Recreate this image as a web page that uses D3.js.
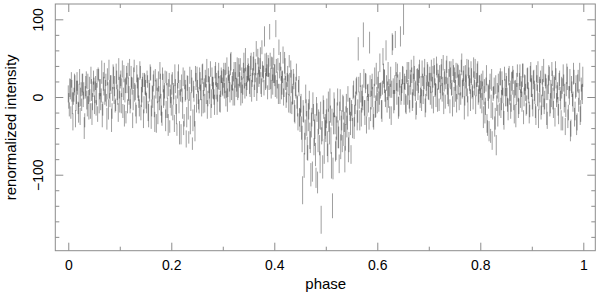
<!DOCTYPE html>
<html>
<head>
    <meta charset="utf-8">
    <title>renormalized intensity vs phase</title>
    <script src="https://d3js.org/d3.v7.min.js"></script>
    <style>
        body { margin: 0; background: #fff; }
        text { font-family: "Liberation Sans", Arial, sans-serif; }
    </style>
</head>
<body>
    <script type="text/javascript">
    // intensity per phase bin, first cycle (500 bins over 0..1)
    const cycleA = [
        -5, 12, -20, 8, -32, 3, 15, -8, 20, -14, 2, -25, 10, 18, -3, -40, 6, 22, -12, 0, 14, -18, 9, -6, 25,
        -10, 18, 4, -22, 28, 10, -6, 32, -15, 14, 0, 22, -28, 8, 35, -4, 16, -18, 26, 2, -12, 30, 6, -20, 12,
        20, -8, 36, 4, -24, 15, 28, -12, 10, 38, -2, 18, -30, 24, 6, -16, 30, 12, -6, 34, -20, 8, 22, -10, 16,
        -4, 26, -18, 10, 32, -26, 6, 18, -12, 28, -34, 2, 20, -8, 14, -22, 30, -2, 8, -30, 24, -14, 12, -38, 4,
        16, -20, 6, 28, -10, -42, 22, -6, 12, -48, 2, 26, -30, 8, -54, 18, -16, 4, -36, 20, -60, 10, -24, 30, -8,
        14, -4, 24, 6, -14, 30, 10, -8, 20, 34, -2, 16, 4, -18, 26, 12, 0, 32, 8, -10, 22, 18, -6, 28, 14,
        24, 8, 36, 12, -4, 30, 18, 42, 6, 20, 28, 2, 34, 16, 10, 38, 22, 4, 30, 14, 44, 8, 26, 18, 36,
        30, 14, 46, 22, 40, 8, 34, 62, 18, 40, 26, 50, 12, 36, 32, 78, 20, 42, 6, 38, 84, 24, 44, 16, 52,
        28, 88, 10, 42, 64, 4, 30, 18, 54, 12, 36, -4, 22, 16, 46, -10, 20, 2, 26, -18, 10, 32, -12, 14, -26,
        -12, -40, -120, -22, -60, 4, -34, -72, -16, -50, -100, -26, -8, -64, -38, -104, -20, -56, -30, -84, -158, -44, -10, -70, -36,
        -28, -60, -6, -46, -22, -88, -140, -34, -14, -70, -40, 0, -52, -18, -64, -30, -8, -48, -80, -24, -38, 4, -58, -16, -74,
        -20, 6, -40, -10, 14, -30, 62, -4, 22, -26, 2, 80, -14, 18, -36, 8, -8, 70, -22, 12, 0, -32, 26, -12, 4,
        16, -6, 44, 10, -18, 52, 24, 2, 60, -10, 30, 12, 8, -24, 68, 14, -4, 74, 20, 34, -14, 12, 78, 6, 28,
        112, 20, -8, 26, 4, 34, -12, 16, 28, -2, 38, 10, -18, 22, 6, 30, -6, 14, 36, 0, 24, -14, 18, 32, 8,
        22, 2, 34, 16, -10, 28, 10, 40, -4, 20, 30, 6, 36, 14, -8, 26, 18, 42, 4, 24, -12, 32, 12, 38, 0,
        20, 34, 6, 28, -6, 16, 40, 10, 24, -14, 30, 14, 2, 36, 18, -4, 26, 8, 38, 12, -10, 22, 32, 4, 18,
        10, -8, 24, 2, -20, 16, -34, 6, -44, 20, -12, -56, 4, 14, -28, -62, 8, 18, -16, 26, -4, 12, -22, 30, 0,
        14, -10, 26, 4, -18, 20, 32, -4, 10, -24, 22, 6, -12, 28, 16, -6, 34, 0, 18, -16, 24, 8, -20, 30, 12,
        -6, 22, 8, -18, 30, 2, -28, 16, 26, -10, 12, 34, -4, 20, -22, 6, 28, -14, 10, 36, -2, 18, -26, 24, 4,
        -12, 20, 4, -30, 14, 28, -8, -38, 10, 24, -20, 2, -44, 16, -4, 30, -26, 8, -36, 18, -10, 32, -18, 6, 26
    ];
    const errA = [
        10, 12, 8, 14, 11, 9, 13, 10, 12, 8, 15, 11, 9, 12, 10, 14, 8, 11, 13, 9, 12, 10, 14, 11, 9,
        12, 9, 14, 10, 8, 13, 11, 15, 9, 12, 10, 8, 14, 11, 13, 9, 12, 10, 16, 11, 8, 13, 10, 12, 14,
        9, 13, 11, 8, 14, 10, 12, 9, 15, 11, 13, 8, 10, 14, 12, 9, 11, 13, 8, 12, 10, 15, 9, 11, 13,
        11, 8, 13, 12, 10, 15, 9, 11, 14, 8, 12, 10, 13, 9, 16, 11, 8, 12, 10, 14, 9, 13, 11, 8, 12,
        13, 10, 9, 14, 12, 8, 11, 15, 10, 13, 9, 12, 8, 14, 11, 10, 13, 9, 12, 15, 8, 11, 14, 10, 12,
        8, 12, 14, 10, 11, 13, 9, 12, 8, 15, 10, 11, 13, 9, 12, 14, 10, 8, 11, 13, 12, 9, 14, 10, 11,
        12, 10, 8, 13, 15, 9, 11, 14, 10, 12, 8, 13, 11, 9, 14, 12, 10, 15, 8, 11, 13, 10, 12, 9, 14,
        10, 14, 11, 9, 12, 8, 15, 10, 13, 11, 9, 14, 12, 10, 8, 13, 11, 15, 9, 12, 10, 14, 8, 13, 11,
        14, 11, 12, 8, 10, 13, 9, 15, 11, 12, 14, 10, 9, 13, 8, 11, 15, 12, 10, 14, 9, 11, 13, 8, 12,
        13, 15, 18, 11, 14, 12, 16, 10, 13, 17, 15, 12, 14, 11, 16, 13, 12, 15, 11, 14, 18, 13, 12, 16, 14,
        12, 16, 13, 15, 11, 17, 16, 14, 12, 13, 15, 11, 14, 12, 16, 13, 11, 15, 17, 12, 14, 10, 13, 15, 12,
        11, 9, 14, 12, 10, 13, 15, 11, 9, 12, 14, 16, 10, 13, 11, 8, 12, 14, 9, 11, 13, 10, 12, 14, 9,
        10, 13, 12, 9, 14, 11, 12, 8, 13, 10, 15, 11, 9, 12, 14, 10, 13, 11, 12, 9, 14, 10, 13, 11, 12,
        32, 10, 12, 9, 14, 11, 8, 13, 10, 12, 15, 9, 11, 14, 10, 12, 8, 13, 11, 9, 14, 12, 10, 13, 11,
        9, 12, 14, 10, 11, 13, 8, 12, 15, 10, 11, 9, 13, 12, 14, 10, 8, 11, 13, 12, 9, 14, 10, 11, 13,
        12, 10, 9, 13, 11, 14, 8, 12, 10, 15, 11, 13, 9, 12, 10, 14, 11, 8, 13, 10, 12, 9, 14, 11, 10,
        11, 13, 10, 12, 14, 9, 12, 11, 13, 10, 15, 12, 9, 11, 14, 13, 10, 12, 8, 11, 13, 10, 14, 9, 12,
        13, 9, 11, 14, 10, 12, 8, 13, 11, 15, 9, 12, 10, 14, 11, 13, 9, 12, 10, 8, 13, 11, 14, 10, 12,
        10, 12, 13, 9, 11, 14, 12, 10, 8, 13, 11, 15, 12, 9, 14, 10, 13, 11, 12, 9, 14, 10, 12, 13, 11,
        12, 11, 9, 13, 10, 14, 12, 11, 9, 15, 10, 12, 13, 11, 8, 14, 12, 10, 13, 11, 9, 12, 14, 10, 13
    ];

    // second cycle, bins shifted by half a bin
    const cycleB = [
        4, -16, 10, 22, -8, -2, 18, -28, 6, 12, -20, 26, 0, -10, 16, 8, -30, 14, -4, 20, -14, 2, 28, -22, 10,
        16, 6, -14, 24, 30, -8, 12, 2, -24, 20, 34, 8, -4, 26, -16, 10, 18, -30, 4, 28, 14, -10, 22, 0, 36,
        -6, 24, 12, -18, 30, 8, -26, 18, 34, 2, -12, 26, 14, -4, 40, 6, -22, 20, 10, -14, 32, 0, 16, -28, 22,
        12, -8, 20, -24, 6, 30, -14, 0, 24, -32, 10, 16, -20, 4, 34, -10, -28, 18, 2, 26, -16, 8, -36, 22, -2,
        -12, 24, 4, -34, 14, -22, 8, 30, -46, 2, 18, -14, -40, 22, 6, -26, 12, -52, 28, -6, 16, -30, 4, -44, 20,
        26, 2, -12, 20, 10, 32, -6, 16, 24, 4, -16, 28, 12, 36, -2, 18, 8, -10, 30, 22, 6, 34, -8, 14, 26,
        10, 32, 20, -2, 40, 14, 26, 6, 46, 18, 0, 30, 22, 12, 38, 8, 28, 42, 16, 4, 34, 24, 48, 10, 30,
        32, 14, 40, 8, 28, 46, 20, 36, 10, 52, 26, 38, 18, 64, 30, 12, 44, 24, 34, 40, 20, 48, 10, 36, 28,
        30, 14, 40, 22, 4, 34, 46, 12, 26, 0, 44, 18, 6, 30, -8, 16, 36, -14, 4, 20, -22, 12, -6, -32, 14,
        -30, -8, -54, -18, -88, -42, -14, -66, -26, -4, -58, -36, -96, -20, -46, -74, -12, -110, -32, -62, -24, -50, -90, -16, -40,
        -44, -18, -72, -30, -2, -56, -26, -92, -10, -36, -66, -20, -48, -86, -4, -40, -60, -14, -32, -52, -8, -28, -68, -12, -34,
        -14, -40, 10, -24, -2, 14, -18, 16, -30, 4, -6, -8, 24, -20, 20, -12, 6, -34, 14, -4, 20, -26, 8, -16, 30,
        -8, 22, 4, 8, -16, 12, 30, 20, -2, 18, 8, 0, -20, 26, 10, 70, -6, 16, 36, 4, 18, -12, 22, 2, 14,
        28, 4, 18, -10, 32, 12, 0, 24, 40, -6, 16, 30, 8, -14, 26, 20, 36, 2, -4, 22, 14, 38, -8, 10, 28,
        8, 30, 18, -4, 26, 40, 12, 2, 34, 22, -10, 16, 28, 6, 44, 20, -6, 32, 14, 0, 36, 24, 10, -12, 30,
        28, 8, -8, 34, 16, 24, -2, 42, 12, 30, 4, 20, 38, -12, 26, 14, 32, 6, -4, 22, 36, 10, 28, 0, 16,
        -2, 20, 8, -26, 14, -12, 28, -40, 0, 10, -50, 22, -18, 6, -38, 16, -8, -24, 4, 24, -14, 18, 2, -30, 12,
        22, 0, -16, 30, 8, -8, 18, 26, -22, 12, 4, 34, -14, 20, -2, 10, 28, -26, 16, 6, -10, 24, 2, -18, 32,
        14, -14, 26, 4, -24, 18, 32, -6, 8, -20, 28, 0, -12, 22, 10, -30, 16, 30, -8, 2, 24, -16, 12, 34, -4,
        8, -22, 24, -4, 12, -34, 18, 2, -16, 30, -28, 6, 22, -40, 10, -6, 26, -18, 14, -32, 20, 0, -24, 16, 4
    ];
    const errB = [
        11, 9, 13, 10, 14, 8, 12, 11, 15, 9, 13, 10, 12, 8, 14, 11, 9, 13, 12, 10, 15, 8, 11, 14, 10,
        9, 14, 10, 12, 8, 13, 11, 9, 15, 12, 10, 14, 8, 11, 13, 12, 10, 15, 9, 11, 13, 8, 12, 10, 14,
        14, 10, 12, 9, 11, 15, 8, 13, 10, 12, 9, 14, 11, 13, 8, 10, 12, 9, 15, 11, 8, 13, 10, 12, 9,
        10, 13, 8, 15, 12, 9, 11, 14, 10, 13, 12, 8, 15, 10, 11, 14, 9, 12, 13, 8, 11, 10, 14, 9, 12,
        12, 8, 14, 11, 9, 13, 10, 12, 15, 8, 11, 14, 9, 12, 10, 13, 15, 8, 11, 12, 9, 14, 10, 13, 11,
        13, 11, 9, 12, 14, 10, 15, 8, 11, 13, 12, 9, 14, 10, 12, 8, 11, 13, 15, 9, 12, 10, 11, 14, 8,
        9, 12, 15, 10, 11, 14, 8, 13, 12, 9, 11, 15, 10, 12, 13, 9, 14, 8, 11, 12, 10, 13, 15, 9, 11,
        11, 10, 13, 14, 9, 12, 11, 8, 15, 10, 13, 12, 14, 9, 11, 10, 12, 13, 8, 14, 11, 9, 12, 15, 10,
        12, 14, 9, 11, 13, 10, 12, 15, 8, 11, 14, 9, 13, 10, 12, 15, 11, 8, 13, 10, 12, 14, 9, 11, 13,
        15, 12, 17, 14, 16, 13, 11, 15, 18, 12, 14, 16, 13, 11, 17, 15, 12, 14, 16, 13, 18, 11, 15, 12, 14,
        14, 16, 12, 15, 13, 17, 11, 14, 16, 12, 15, 13, 18, 12, 14, 16, 11, 15, 13, 17, 12, 14, 16, 11, 15,
        10, 13, 11, 14, 9, 12, 15, 10, 13, 11, 14, 9, 12, 16, 10, 13, 11, 8, 14, 12, 10, 13, 9, 11, 14,
        13, 11, 14, 10, 12, 9, 13, 15, 11, 10, 12, 14, 8, 13, 11, 10, 15, 12, 9, 14, 11, 13, 10, 12, 9,
        11, 14, 9, 12, 13, 10, 15, 11, 8, 12, 14, 10, 13, 9, 11, 15, 12, 10, 14, 8, 13, 11, 12, 9, 14,
        12, 9, 13, 11, 14, 10, 12, 15, 9, 13, 8, 11, 14, 12, 10, 13, 9, 15, 11, 12, 10, 14, 8, 13, 11,
        10, 14, 12, 9, 13, 11, 8, 14, 12, 10, 15, 9, 11, 13, 12, 10, 14, 8, 12, 11, 13, 9, 15, 10, 12,
        13, 10, 12, 14, 9, 11, 13, 10, 15, 12, 9, 14, 11, 8, 13, 12, 10, 14, 11, 9, 13, 15, 10, 12, 11,
        9, 12, 14, 10, 13, 11, 15, 9, 12, 10, 14, 8, 13, 11, 12, 10, 15, 9, 13, 11, 12, 14, 10, 8, 13,
        14, 11, 9, 13, 12, 10, 14, 11, 15, 9, 12, 13, 10, 8, 14, 11, 12, 9, 13, 15, 10, 11, 14, 12, 9,
        11, 13, 10, 12, 14, 9, 11, 15, 10, 13, 12, 8, 14, 11, 10, 13, 9, 12, 14, 11, 15, 10, 12, 9, 13
    ];

    const phaseTicks = [0, 0.2, 0.4, 0.6, 0.8, 1];
    const phaseMinor = [0.1, 0.3, 0.5, 0.7, 0.9];
    const intensityTicks = [-100, 0, 100];
    const intensityMinor = [-180, -160, -140, -120, -80, -60, -40, -20, 20, 40, 60, 80];

    const width = 600, height = 296;
    const plot = {left: 55.3, right: 595.3, top: 4, bottom: 250.7};
    const axisColor = "#8c8c8c";

    const nBins = cycleA.length;
    const data = [
        ...cycleA.map((v, i) => ({phase: (i + 0.5) / nBins, value: v, err: errA[i]})),
        ...cycleB.map((v, i) => ({phase: i / nBins, value: v, err: errB[i]}))
    ];

    const x = d3.scaleLinear().domain([-0.0252, 1.0233]).range([plot.left, plot.right]);
    const y = d3.scaleLinear().domain([-197.8, 119.7]).range([plot.bottom, plot.top]);

    const svg = d3.select("body").append("svg")
        .attr("width", width)
        .attr("height", height);

    svg.append("clipPath").attr("id", "clip")
        .append("rect")
        .attr("x", plot.left).attr("y", plot.top)
        .attr("width", plot.right - plot.left)
        .attr("height", plot.bottom - plot.top);

    // error bars
    svg.append("g")
        .attr("clip-path", "url(#clip)")
        .attr("stroke", "#000")
        .attr("stroke-opacity", 0.38)
        .attr("stroke-width", 1)
        .selectAll("line")
        .data(data)
        .join("line")
        .attr("x1", d => x(d.phase))
        .attr("x2", d => x(d.phase))
        .attr("y1", d => y(d.value - d.err))
        .attr("y2", d => y(d.value + d.err));

    function styleAxis(g) {
        g.select(".domain").remove();
        g.selectAll(".tick line").attr("stroke", axisColor);
        g.selectAll("text")
            .attr("fill", "#000")
            .style("font-size", "14px")
            .style("font-family", "'Liberation Sans', Arial, sans-serif");
    }

    // bottom
    svg.append("g")
        .attr("transform", `translate(0,${plot.bottom})`)
        .call(d3.axisBottom(x).tickValues(phaseTicks).tickSize(-8).tickPadding(9)
            .tickFormat(d => String(d)))
        .call(styleAxis);
    svg.append("g")
        .attr("transform", `translate(0,${plot.bottom})`)
        .call(d3.axisBottom(x).tickValues(phaseMinor).tickSize(-4).tickFormat(""))
        .call(styleAxis);
    // top
    svg.append("g")
        .attr("transform", `translate(0,${plot.top})`)
        .call(d3.axisTop(x).tickValues(phaseTicks).tickSize(-8).tickFormat(""))
        .call(styleAxis);
    svg.append("g")
        .attr("transform", `translate(0,${plot.top})`)
        .call(d3.axisTop(x).tickValues(phaseMinor).tickSize(-4).tickFormat(""))
        .call(styleAxis);

    // left
    const yAxis = svg.append("g")
        .attr("transform", `translate(${plot.left},0)`)
        .call(d3.axisLeft(y).tickValues(intensityTicks).tickSize(-8))
        .call(styleAxis);
    yAxis.selectAll("text")
        .attr("transform", "rotate(-90)")
        .attr("x", 0)
        .attr("y", -12)
        .attr("dy", 0)
        .attr("text-anchor", "middle");
    svg.append("g")
        .attr("transform", `translate(${plot.left},0)`)
        .call(d3.axisLeft(y).tickValues(intensityMinor).tickSize(-4).tickFormat(""))
        .call(styleAxis);
    // right
    svg.append("g")
        .attr("transform", `translate(${plot.right},0)`)
        .call(d3.axisRight(y).tickValues(intensityTicks).tickSize(-8).tickFormat(""))
        .call(styleAxis);
    svg.append("g")
        .attr("transform", `translate(${plot.right},0)`)
        .call(d3.axisRight(y).tickValues(intensityMinor).tickSize(-4).tickFormat(""))
        .call(styleAxis);

    // frame
    svg.append("rect")
        .attr("x", plot.left).attr("y", plot.top)
        .attr("width", plot.right - plot.left)
        .attr("height", plot.bottom - plot.top)
        .attr("fill", "none")
        .attr("stroke", axisColor);

    svg.append("text")
        .attr("x", (x(0) + x(1)) / 2)
        .attr("y", 289)
        .attr("text-anchor", "middle")
        .style("font-size", "15px")
        .text("phase");

    svg.append("text")
        .attr("transform", `translate(16,${(plot.top + plot.bottom) / 2}) rotate(-90)`)
        .attr("text-anchor", "middle")
        .style("font-size", "15px")
        .text("renormalized intensity");
    </script>
</body>
</html>
